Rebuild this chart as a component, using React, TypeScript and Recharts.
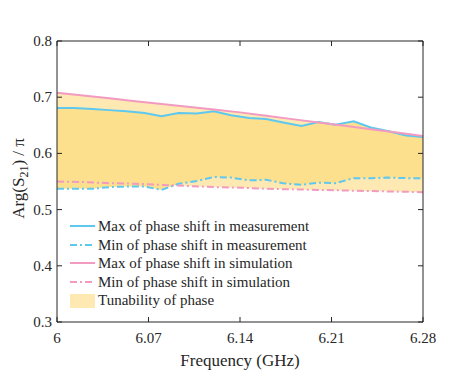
import {
  Area,
  ComposedChart,
  Legend,
  Line,
  ReferenceLine,
  XAxis,
  YAxis,
} from "recharts";

// measurement sweep (22 points)
const MEAS_FREQ = [
  6.0, 6.013, 6.027, 6.04, 6.053, 6.067, 6.08, 6.093, 6.107, 6.12, 6.133,
  6.147, 6.16, 6.173, 6.187, 6.2, 6.213, 6.227, 6.24, 6.253, 6.267, 6.28,
];
const MEAS_MAX = [
  0.681, 0.681, 0.679, 0.677, 0.675, 0.672, 0.666, 0.672, 0.671, 0.675, 0.668,
  0.663, 0.661, 0.655, 0.649, 0.656, 0.651, 0.657, 0.646, 0.64, 0.632, 0.629,
];
const MEAS_MIN = [
  0.537, 0.537, 0.537, 0.54, 0.541, 0.541, 0.535, 0.546, 0.551, 0.558, 0.557,
  0.552, 0.553, 0.547, 0.544, 0.548, 0.547, 0.556, 0.556, 0.557, 0.556, 0.556,
];

// simulation sweep
const SIM_FREQ = [
  6.0, 6.02, 6.04, 6.06, 6.08, 6.1, 6.12, 6.14, 6.16, 6.18, 6.2, 6.22, 6.24,
  6.26, 6.28,
];
const SIM_MAX = [
  0.708, 0.703, 0.698, 0.693, 0.688, 0.683, 0.678, 0.673, 0.667, 0.661, 0.655,
  0.649, 0.643, 0.637, 0.631,
];
const SIM_MIN = [
  0.55, 0.549, 0.547, 0.546, 0.544, 0.542, 0.54, 0.539, 0.537, 0.536, 0.535,
  0.534, 0.533, 0.532, 0.531,
];

const X_TICKS = [6, 6.07, 6.14, 6.21, 6.28];
const Y_TICKS = [0.3, 0.4, 0.5, 0.6, 0.7, 0.8];

const LEGEND_LABELS = [
  "Max of phase shift in measurement",
  "Min of phase shift in measurement",
  "Max of phase shift in simulation",
  "Min of phase shift in simulation",
  "Tunability of phase",
];

const W = 463;
const H = 383;
const MARGIN = { top: 41, right: 40, bottom: 0, left: 0 };
const PLOT_LEFT = 57;
const PLOT_RIGHT = W - MARGIN.right;
const FONT = "Liberation Serif, Times New Roman, serif";
const AX = "#262626";
const BLUE = "#5ec8ef";
const PINK = "#f39ac0";
const FILL_SIM = "#fee9b2";
const FILL_MEAS = "#fde08e";
const DASHDOT = "7 3 2 3";

const measData = MEAS_FREQ.map((f, i) => ({
  f,
  max: MEAS_MAX[i],
  min: MEAS_MIN[i],
  range: [MEAS_MIN[i], MEAS_MAX[i]],
}));
const simData = SIM_FREQ.map((f, i) => ({
  f,
  max: SIM_MAX[i],
  min: SIM_MIN[i],
  range: [SIM_MIN[i], SIM_MAX[i]],
}));

function XTick({ x, y, payload }: any) {
  return (
    <g>
      <line x1={x} x2={x} y1={y} y2={y - 5} stroke={AX} />
      <line x1={x} x2={x} y1={MARGIN.top} y2={MARGIN.top + 5} stroke={AX} />
      <text x={x} y={y + 21} textAnchor="middle" fontSize={15} fill={AX} style={{ fontFamily: FONT }}>
        {String(payload.value)}
      </text>
    </g>
  );
}

function YTick({ x, y, payload }: any) {
  return (
    <g>
      <line x1={x} x2={x + 5} y1={y} y2={y} stroke={AX} />
      <line x1={PLOT_RIGHT} x2={PLOT_RIGHT - 5} y1={y} y2={y} stroke={AX} />
      <text x={x - 5} y={y + 5} textAnchor="end" fontSize={15} fill={AX} style={{ fontFamily: FONT }}>
        {Number(payload.value).toFixed(1)}
      </text>
    </g>
  );
}

function XLabel({ viewBox }: any) {
  return (
    <text
      x={viewBox.x + viewBox.width / 2}
      y={366}
      textAnchor="middle"
      fontSize={17}
      fill={AX}
      style={{ fontFamily: FONT }}
    >
      Frequency (GHz)
    </text>
  );
}

function YLabel({ viewBox }: any) {
  const cy = viewBox.y + viewBox.height / 2 - 3;
  return (
    <text
      transform={`translate(24, ${cy}) rotate(-90)`}
      textAnchor="middle"
      fontSize={17}
      fill={AX}
      style={{ fontFamily: FONT }}
    >
      Arg(S
      <tspan dy={4} fontSize={12}>21</tspan>
      <tspan dy={-4}>) / π</tspan>
    </text>
  );
}

const legendStyles = [
  { color: BLUE, dash: undefined as string | undefined, patch: false },
  { color: BLUE, dash: DASHDOT, patch: false },
  { color: PINK, dash: undefined, patch: false },
  { color: PINK, dash: DASHDOT, patch: false },
  { color: FILL_SIM, dash: undefined, patch: true },
];

function LegendBox() {
  return (
    <div style={{ fontFamily: FONT, fontSize: 15, color: AX, lineHeight: "18.6px" }}>
      {LEGEND_LABELS.map((label, i) => {
        const s = legendStyles[i];
        return (
          <div key={label} style={{ display: "flex", alignItems: "center", height: 18.6 }}>
            <svg width={36} height={18} style={{ display: "block" }}>
              {s.patch ? (
                <rect x={8} y={2} width={25} height={14} fill={s.color} />
              ) : (
                <line
                  x1={8}
                  x2={33}
                  y1={9}
                  y2={9}
                  stroke={s.color}
                  strokeWidth={2}
                  strokeDasharray={s.dash}
                />
              )}
            </svg>
            <span style={{ whiteSpace: "nowrap" }}>{label}</span>
          </div>
        );
      })}
    </div>
  );
}

export default function App() {
  return (
    <div style={{ position: "absolute", left: 0, top: 0, width: W, height: H, background: "#fff" }}>
      <ComposedChart width={W} height={H} margin={MARGIN}>
        <XAxis
          dataKey="f"
          type="number"
          domain={[6, 6.28]}
          ticks={X_TICKS}
          allowDataOverflow
          height={61}
          tickSize={0}
          tickMargin={0}
          tickLine={false}
          axisLine={{ stroke: AX }}
          tick={<XTick />}
          label={{ content: <XLabel /> }}
        />
        <YAxis
          type="number"
          domain={[0.3, 0.8]}
          ticks={Y_TICKS}
          allowDataOverflow
          width={PLOT_LEFT}
          tickSize={0}
          tickMargin={0}
          tickLine={false}
          axisLine={{ stroke: AX }}
          tick={<YTick />}
          label={{ content: <YLabel /> }}
        />
        <Area
          data={simData}
          dataKey="range"
          type="linear"
          stroke="none"
          fill={FILL_SIM}
          fillOpacity={1}
          isAnimationActive={false}
          legendType="none"
        />
        <Area
          data={measData}
          dataKey="range"
          type="linear"
          stroke="none"
          fill={FILL_MEAS}
          fillOpacity={1}
          isAnimationActive={false}
          legendType="none"
        />
        <Line data={measData} dataKey="max" type="linear" stroke={BLUE} strokeWidth={2} dot={false} isAnimationActive={false} />
        <Line data={measData} dataKey="min" type="linear" stroke={BLUE} strokeWidth={2} strokeDasharray={DASHDOT} dot={false} isAnimationActive={false} />
        <Line data={simData} dataKey="max" type="linear" stroke={PINK} strokeWidth={2} dot={false} isAnimationActive={false} />
        <Line data={simData} dataKey="min" type="linear" stroke={PINK} strokeWidth={2} strokeDasharray={DASHDOT} dot={false} isAnimationActive={false} />
        <ReferenceLine y={0.8} stroke={AX} ifOverflow="visible" />
        <ReferenceLine x={6.28} stroke={AX} ifOverflow="visible" />
        <Legend
          layout="horizontal"
          verticalAlign="middle"
          align="center"
          content={<LegendBox />}
          wrapperStyle={{ position: "absolute", left: 62, top: 217, width: "auto", height: "auto" }}
        />
      </ComposedChart>
    </div>
  );
}
